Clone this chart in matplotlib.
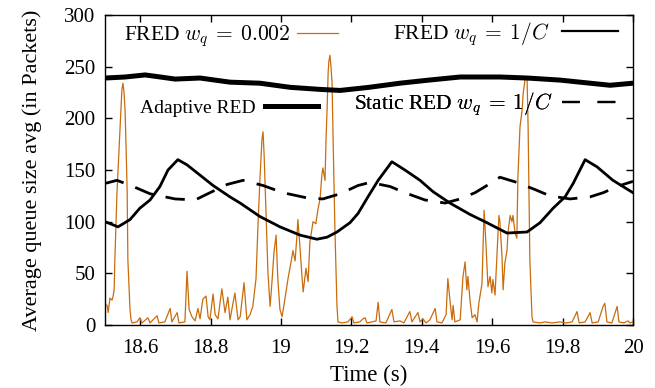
"""Average queue size: FRED vs. Adaptive/Static RED, 18.5-20 s window."""
import matplotlib
matplotlib.use("Agg")
import matplotlib.pyplot as plt  # noqa: E402
from matplotlib.lines import Line2D  # noqa: E402

plt.rcParams["font.family"] = ["Liberation Serif", "DejaVu Serif"]
plt.rcParams["mathtext.fontset"] = "cm"
plt.rcParams["font.size"] = 15

ORANGE = "#c96c0c"

# ---- FRED w_q = 0.002 (thin, spiky) -----------------------------------------
fred002_t = [
    18.500, 18.506, 18.509, 18.514, 18.520, 18.523, 18.526, 18.528, 18.534, 18.540,
    18.543, 18.548, 18.551, 18.554, 18.557, 18.560, 18.563, 18.565, 18.571, 18.574,
    18.577, 18.591, 18.599, 18.605, 18.622, 18.628, 18.648, 18.653, 18.670, 18.685,
    18.690, 18.705, 18.710, 18.727, 18.733, 18.739, 18.747, 18.756, 18.764, 18.770,
    18.778, 18.787, 18.793, 18.798, 18.807, 18.813, 18.821, 18.832, 18.841, 18.849,
    18.855, 18.869, 18.878, 18.884, 18.895, 18.903, 18.912, 18.920, 18.929, 18.935,
    18.940, 18.946, 18.949, 18.952, 18.957, 18.963, 18.969, 18.974, 18.980, 18.986,
    18.991, 18.997, 19.003, 19.011, 19.020, 19.028, 19.034, 19.040, 19.045, 19.048,
    19.054, 19.060, 19.063, 19.071, 19.077, 19.082, 19.091, 19.099, 19.105, 19.111,
    19.116, 19.119, 19.125, 19.128, 19.131, 19.134, 19.136, 19.139, 19.142, 19.145,
    19.148, 19.153, 19.159, 19.162, 19.173, 19.190, 19.202, 19.207, 19.224, 19.233,
    19.239, 19.244, 19.259, 19.270, 19.276, 19.281, 19.298, 19.315, 19.321, 19.338,
    19.349, 19.366, 19.372, 19.389, 19.395, 19.403, 19.412, 19.423, 19.438, 19.443,
    19.457, 19.469, 19.474, 19.480, 19.486, 19.489, 19.494, 19.509, 19.517, 19.523,
    19.528, 19.531, 19.537, 19.543, 19.551, 19.557, 19.562, 19.571, 19.577, 19.582,
    19.588, 19.594, 19.599, 19.602, 19.608, 19.614, 19.619, 19.622, 19.628, 19.631,
    19.636, 19.642, 19.645, 19.651, 19.656, 19.659, 19.665, 19.670, 19.673, 19.679,
    19.685, 19.688, 19.693, 19.699, 19.702, 19.707, 19.713, 19.716, 19.736, 19.750,
    19.770, 19.793, 19.810, 19.827, 19.841, 19.847, 19.864, 19.878, 19.884, 19.901,
    19.915, 19.920, 19.926, 19.940, 19.955, 19.960, 19.974, 19.986, 19.991, 20.000,
]
fred002_q = [
    20, 19, 12, 26, 24, 28, 34, 63, 128, 170,
    192, 228, 234, 225, 208, 170, 128, 63, 15, 5,
    2, 3, 7, 2, 7, 2, 9, 2, 3, 16,
    3, 12, 2, 3, 52, 15, 8, 4, 16, 6,
    25, 28, 8, 5, 30, 10, 6, 35, 12, 27,
    5, 31, 5, 8, 41, 5, 10, 18, 45, 100,
    140, 180, 187, 165, 114, 50, 18, 40, 70, 87,
    44, 15, 8, 25, 45, 60, 72, 62, 85, 102,
    75, 45, 32, 55, 42, 80, 100, 98, 112, 122,
    145, 152, 140, 180, 210, 245, 255, 261, 250, 235,
    180, 95, 18, 3, 2, 3, 8, 2, 3, 6,
    7, 2, 3, 4, 22, 3, 2, 15, 3, 4,
    2, 13, 3, 12, 3, 6, 2, 5, 16, 3,
    2, 10, 45, 24, 5, 19, 3, 5, 47, 61,
    34, 47, 24, 7, 10, 3, 21, 40, 111, 80,
    37, 47, 31, 44, 29, 70, 106, 100, 65, 34,
    60, 72, 90, 106, 100, 106, 89, 84, 143, 192,
    208, 224, 237, 239, 192, 63, 8, 3, 2, 3,
    2, 3, 2, 3, 13, 2, 3, 12, 2, 3,
    18, 21, 3, 2, 18, 3, 2, 4, 2, 3,
]

# ---- FRED w_q = 1/C -----------------------------------------------------------
fredc_t = [18.500, 18.537, 18.571, 18.599, 18.628, 18.656, 18.679, 18.707, 18.733,
           18.770, 18.807, 18.855, 18.884, 18.940, 18.997, 19.054, 19.102, 19.131,
           19.159, 19.196, 19.219, 19.247, 19.276, 19.315, 19.352, 19.395, 19.432,
           19.480, 19.537, 19.585, 19.642, 19.699, 19.736, 19.773, 19.807, 19.830,
           19.864, 19.898, 19.943, 20.000]
fredc_q = [100, 95, 102, 113, 121, 134, 150, 160, 155,
           145, 135, 124, 118, 105, 95, 87, 83, 85,
           90, 99, 108, 124, 140, 158, 150, 140, 129,
           118, 107, 99, 89, 90, 99, 113, 124, 137,
           160, 153, 140, 128]

# ---- Adaptive RED ---------------------------------------------------------------
ared_t = [18.500, 18.557, 18.614, 18.657, 18.699, 18.770, 18.855, 18.940, 19.026,
          19.111, 19.168, 19.250, 19.338, 19.420, 19.509, 19.622, 19.700, 19.793,
          19.878, 19.935, 20.000]
ared_q = [239, 240, 242, 240, 238, 239, 235, 234, 230,
          228, 227, 230, 234, 237, 240, 240, 239, 237,
          234, 232, 234]

# ---- Static RED w_q = 1/C -----------------------------------------------------
sred_t = [18.500, 18.534, 18.580, 18.628, 18.699, 18.756, 18.798, 18.847, 18.892,
          18.949, 19.006, 19.074, 19.119, 19.168, 19.219, 19.253, 19.310, 19.352,
          19.409, 19.466, 19.509, 19.551, 19.585, 19.622, 19.670, 19.722, 19.764,
          19.821, 19.878, 19.915, 19.963, 20.000]
sred_q = [137, 140, 134, 127, 122, 121, 128, 136, 140,
          135, 128, 123, 122, 127, 135, 138, 134, 128,
          121, 118, 122, 128, 135, 143, 138, 131, 125,
          122, 124, 128, 135, 139]

X_TICKS = [18.6, 18.8, 19.0, 19.2, 19.4, 19.6, 19.8, 20.0]
X_LABELS = ["18.6", "18.8", "19", "19.2", "19.4", "19.6", "19.8", "20"]
Y_TICKS = [0, 50, 100, 150, 200, 250, 300]


def main():
    fig = plt.figure(figsize=(6.55, 3.88), dpi=100)
    ax = fig.add_axes([105 / 655, 63 / 388, 528 / 655, 310 / 388])

    ax.plot(fred002_t, fred002_q, color=ORANGE, lw=0.9)
    ax.plot(fredc_t, fredc_q, color="black", lw=2.0)
    ax.plot(ared_t, ared_q, color="black", lw=3.6)
    ax.plot(sred_t, sred_q, color="black", lw=2.0, dashes=(7, 4.5))

    ax.set_xlim(18.5, 20)
    ax.set_ylim(0, 300)
    ax.set_xticks(X_TICKS, X_LABELS)
    ax.set_yticks(Y_TICKS)
    ax.tick_params(direction="in", top=True, right=True, length=5, width=1)
    ax.tick_params(axis="x", pad=10)
    ax.tick_params(axis="y", pad=7)
    for s in ax.spines.values():
        s.set_linewidth(1.0)

    ax.set_xlabel("Time (s)", fontsize=16.5, labelpad=5)
    ax.set_ylabel("Average queue size avg (in Packets)", fontsize=16,
                  labelpad=16)

    # gnuplot-style keys: text first, sample after
    keys = [
        (Line2D([], [], color=ORANGE, lw=0.9), r"FRED $w_q\:=\:0.002$",
         (0.441, 0.932), 15.5, 1.9, 0.3),
        (Line2D([], [], color="black", lw=1.6), r"FRED $w_q\:=\:1/C$",
         (0.972, 0.94), 15.5, 2.6, 0.6),
        (Line2D([], [], color="black", lw=3.6), "Adaptive RED",
         (0.403, 0.700), 14, 2.7, 0.5),
        (Line2D([], [], color="black", lw=1.6, dashes=(8, 8)),
         r"Static RED $w_q\:=\:1/C$", (0.972, 0.712), 15.5, 2.6, 0.45),
    ]
    for handle, label, anchor, size, hlen, hpad in keys:
        leg = ax.legend([handle], [label], loc="center right",
                        bbox_to_anchor=anchor, frameon=False, markerfirst=False,
                        borderpad=0, borderaxespad=0, handlelength=hlen,
                        handletextpad=hpad, fontsize=size)
        ax.add_artist(leg)

    fig.savefig("out.png", dpi=100)


if __name__ == "__main__":
    main()
